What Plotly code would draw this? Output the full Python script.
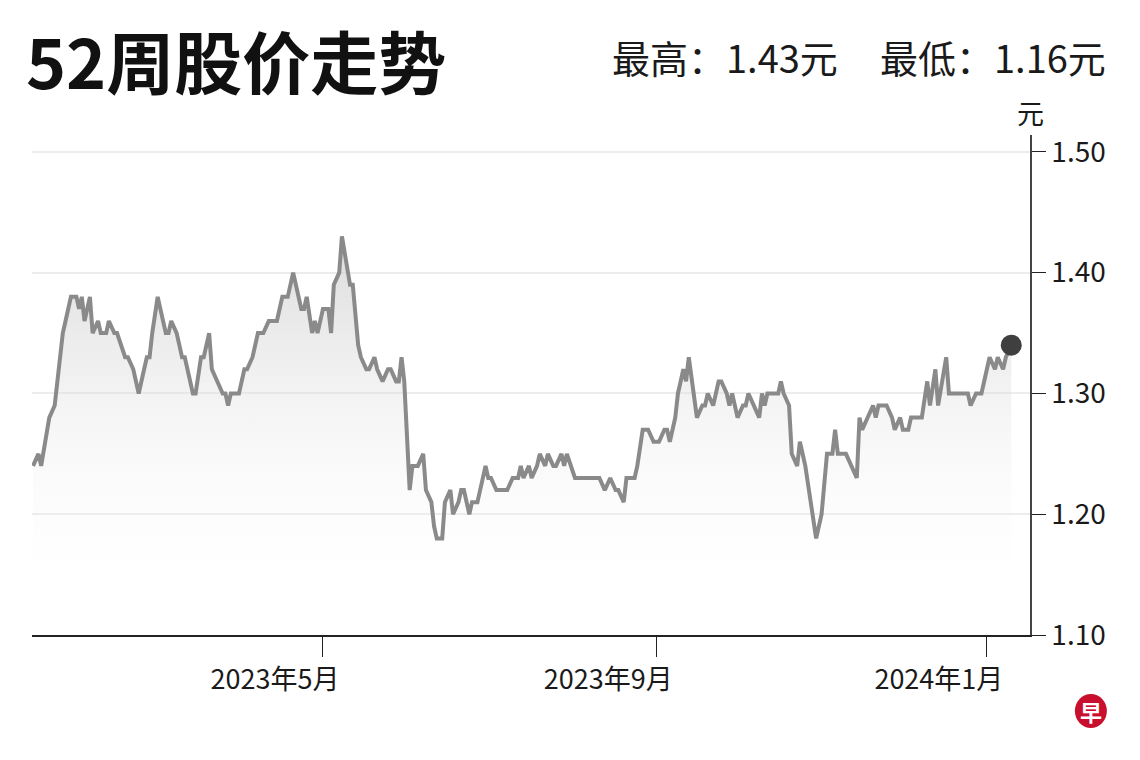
#
# 52-week share price chart
#

import plotly.graph_objects as go

FONT = "Noto Sans CJK SC"

# turning points of the price line (date, closing price in 元)
dates = [
    "2023-01-14", "2023-01-16", "2023-01-17", "2023-01-20", "2023-01-22", "2023-01-23",
    "2023-01-25", "2023-01-26", "2023-01-28", "2023-01-30", "2023-01-31", "2023-02-01",
    "2023-02-02", "2023-02-04", "2023-02-05", "2023-02-07", "2023-02-08", "2023-02-10",
    "2023-02-11", "2023-02-13", "2023-02-14", "2023-02-17", "2023-02-18", "2023-02-20",
    "2023-02-22", "2023-02-24", "2023-02-25", "2023-02-26", "2023-02-27", "2023-03-01",
    "2023-03-03", "2023-03-04", "2023-03-05", "2023-03-06", "2023-03-08", "2023-03-10",
    "2023-03-11", "2023-03-14", "2023-03-15", "2023-03-17", "2023-03-18", "2023-03-20",
    "2023-03-21", "2023-03-23", "2023-03-25", "2023-03-26", "2023-03-27", "2023-03-28",
    "2023-03-31", "2023-04-02", "2023-04-03", "2023-04-05", "2023-04-07", "2023-04-09",
    "2023-04-11", "2023-04-14", "2023-04-16", "2023-04-18", "2023-04-20", "2023-04-21",
    "2023-04-23", "2023-04-24", "2023-04-25", "2023-04-27", "2023-04-28", "2023-04-29",
    "2023-05-01", "2023-05-03", "2023-05-04", "2023-05-05", "2023-05-07", "2023-05-08",
    "2023-05-10", "2023-05-11", "2023-05-12", "2023-05-14", "2023-05-15", "2023-05-17",
    "2023-05-18", "2023-05-20", "2023-05-21", "2023-05-23", "2023-05-25", "2023-05-26",
    "2023-05-28", "2023-05-29", "2023-05-30", "2023-05-31", "2023-06-02", "2023-06-03",
    "2023-06-05", "2023-06-07", "2023-06-08", "2023-06-10", "2023-06-11", "2023-06-12",
    "2023-06-14", "2023-06-15", "2023-06-17", "2023-06-18", "2023-06-20", "2023-06-21",
    "2023-06-22", "2023-06-24", "2023-06-25", "2023-06-27", "2023-06-28", "2023-06-30",
    "2023-07-01", "2023-07-02", "2023-07-04", "2023-07-08", "2023-07-10", "2023-07-12",
    "2023-07-13", "2023-07-14", "2023-07-16", "2023-07-17", "2023-07-19", "2023-07-20",
    "2023-07-22", "2023-07-23", "2023-07-25", "2023-07-26", "2023-07-28", "2023-07-29",
    "2023-07-30", "2023-08-02", "2023-08-11", "2023-08-13", "2023-08-15", "2023-08-17",
    "2023-08-18", "2023-08-20", "2023-08-21", "2023-08-24", "2023-08-25", "2023-08-27",
    "2023-08-29", "2023-08-31", "2023-09-02", "2023-09-04", "2023-09-05", "2023-09-06",
    "2023-09-08", "2023-09-09", "2023-09-11", "2023-09-12", "2023-09-13", "2023-09-15",
    "2023-09-16", "2023-09-18", "2023-09-19", "2023-09-20", "2023-09-22", "2023-09-24",
    "2023-09-25", "2023-09-27", "2023-09-28", "2023-09-29", "2023-10-01", "2023-10-03",
    "2023-10-04", "2023-10-05", "2023-10-07", "2023-10-09", "2023-10-10", "2023-10-11",
    "2023-10-12", "2023-10-16", "2023-10-17", "2023-10-18", "2023-10-20", "2023-10-21",
    "2023-10-23", "2023-10-24", "2023-10-26", "2023-10-28", "2023-10-30", "2023-11-01",
    "2023-11-02", "2023-11-03", "2023-11-05", "2023-11-06", "2023-11-07", "2023-11-10",
    "2023-11-14", "2023-11-15", "2023-11-16", "2023-11-18", "2023-11-20", "2023-11-21",
    "2023-11-22", "2023-11-25", "2023-11-27", "2023-11-28", "2023-11-30", "2023-12-01",
    "2023-12-03", "2023-12-04", "2023-12-08", "2023-12-10", "2023-12-11", "2023-12-13",
    "2023-12-14", "2023-12-17", "2023-12-18", "2023-12-25", "2023-12-26", "2023-12-28",
    "2023-12-30", "2024-01-01", "2024-01-02", "2024-01-04", "2024-01-05", "2024-01-07",
    "2024-01-08", "2024-01-10",
]
prices = [
    1.24, 1.25, 1.24, 1.28, 1.29, 1.31,
    1.35, 1.36, 1.38, 1.38, 1.37, 1.38,
    1.36, 1.38, 1.35, 1.36, 1.35, 1.35,
    1.36, 1.35, 1.35, 1.33, 1.33, 1.32,
    1.30, 1.32, 1.33, 1.33, 1.35, 1.38,
    1.36, 1.35, 1.35, 1.36, 1.35, 1.33,
    1.33, 1.30, 1.30, 1.33, 1.33, 1.35,
    1.32, 1.31, 1.30, 1.30, 1.29, 1.30,
    1.30, 1.32, 1.32, 1.33, 1.35, 1.35,
    1.36, 1.36, 1.38, 1.38, 1.40, 1.39,
    1.37, 1.37, 1.38, 1.35, 1.36, 1.35,
    1.37, 1.37, 1.35, 1.39, 1.40, 1.43,
    1.40, 1.39, 1.39, 1.34, 1.33, 1.32,
    1.32, 1.33, 1.32, 1.31, 1.32, 1.32,
    1.31, 1.31, 1.33, 1.31, 1.22, 1.24,
    1.24, 1.25, 1.22, 1.21, 1.19, 1.18,
    1.18, 1.21, 1.22, 1.20, 1.21, 1.22,
    1.22, 1.20, 1.21, 1.21, 1.22, 1.24,
    1.23, 1.23, 1.22, 1.22, 1.23, 1.23,
    1.24, 1.23, 1.24, 1.23, 1.24, 1.25,
    1.24, 1.25, 1.24, 1.24, 1.25, 1.24,
    1.25, 1.23, 1.23, 1.22, 1.23, 1.22,
    1.22, 1.21, 1.23, 1.23, 1.24, 1.27,
    1.27, 1.26, 1.26, 1.27, 1.27, 1.26,
    1.28, 1.30, 1.32, 1.31, 1.33, 1.30,
    1.28, 1.29, 1.29, 1.30, 1.29, 1.31,
    1.31, 1.30, 1.29, 1.30, 1.28, 1.29,
    1.29, 1.30, 1.29, 1.28, 1.30, 1.29,
    1.30, 1.30, 1.31, 1.30, 1.29, 1.25,
    1.24, 1.26, 1.24, 1.21, 1.18, 1.20,
    1.23, 1.25, 1.25, 1.27, 1.25, 1.25,
    1.23, 1.28, 1.27, 1.28, 1.29, 1.28,
    1.29, 1.29, 1.28, 1.27, 1.28, 1.27,
    1.27, 1.28, 1.28, 1.31, 1.29, 1.32,
    1.29, 1.33, 1.30, 1.30, 1.29, 1.30,
    1.30, 1.32, 1.33, 1.32, 1.33, 1.32,
    1.33, 1.34,
]

tick_dates = ["2023-05-01", "2023-09-01", "2024-01-01"]
tick_labels = ["2023年5月", "2023年9月", "2024年1月"]
y_ticks = [1.10, 1.20, 1.30, 1.40, 1.50]

title = "52周股价走势"
high_text = "最高：1.43元"
low_text = "最低：1.16元"
unit = "元"

fig = go.Figure()

fig.add_trace(go.Scatter(
    x=dates, y=prices, mode="lines", fill="tozeroy",
    line=dict(color="#8a8a8a", width=4),
    fillgradient=dict(type="vertical", start=1.12, stop=1.43,
                      colorscale=[[0, "rgba(255,255,255,0)"],
                                  [1, "rgba(200,200,200,0.65)"]]),
    hoverinfo="skip", showlegend=False))

# last close marker
fig.add_trace(go.Scatter(
    x=[dates[-1]], y=[prices[-1]], mode="markers",
    marker=dict(color="#3f3f3f", size=21), showlegend=False, hoverinfo="skip"))

# page body has an 8px margin, so the figure is drawn 8px smaller
fig.update_layout(
    width=1132, height=752,
    margin=dict(l=24, r=110, t=127, b=125),
    paper_bgcolor="white", plot_bgcolor="white",
    font=dict(family=FONT, color="#1a1a1a"),
    xaxis=dict(
        range=["2023-01-13 15:00", "2024-01-16 22:00"],
        tickvals=tick_dates, ticktext=tick_labels,
        ticks="outside", ticklen=20, tickcolor="#222", tickwidth=1,
        ticklabelshift=-48,
        tickfont=dict(size=27, family=FONT, color="#1a1a1a"),
        showline=True, linecolor="#222", linewidth=1.5,
        showgrid=False, zeroline=False),
    yaxis=dict(
        side="right", range=[1.10, 1.514],
        tickvals=y_ticks, tickformat=".2f",
        ticks="outside", ticklen=14, tickcolor="#222", tickwidth=1,
        tickfont=dict(size=28, family=FONT, color="#1a1a1a"),
        showline=True, linecolor="#444", linewidth=1.5,
        showgrid=True, gridcolor="#ececec", gridwidth=1.5,
        zeroline=False),
)

fig.add_annotation(text="<b>" + title + "</b>", xref="paper", yref="paper",
                   x=-0.008, y=1.152, xanchor="left", yanchor="middle",
                   showarrow=False, font=dict(size=68, family=FONT, color="#111"))
fig.add_annotation(text=high_text, xref="paper", yref="paper",
                   x=0.81, y=1.158, xanchor="right", yanchor="middle",
                   showarrow=False, font=dict(size=38, family=FONT, color="#1a1a1a"))
fig.add_annotation(text=low_text, xref="paper", yref="paper",
                   x=1.078, y=1.158, xanchor="right", yanchor="middle",
                   showarrow=False, font=dict(size=38, family=FONT, color="#1a1a1a"))
fig.add_annotation(text=unit, xref="paper", yref="paper",
                   x=1.0, y=1.045, xanchor="center", yanchor="middle",
                   showarrow=False, font=dict(size=27, family=FONT, color="#1a1a1a"))

# red "早" logo bottom right
fig.add_shape(type="circle", xref="paper", yref="paper",
              xsizemode="pixel", ysizemode="pixel",
              xanchor=1.061, yanchor=-0.152,
              x0=-16, x1=16, y0=-17, y1=17,
              fillcolor="#c8102e", line=dict(width=0))
fig.add_annotation(text="<b>早</b>", xref="paper", yref="paper",
                   x=1.061, y=-0.152, xanchor="center", yanchor="middle",
                   showarrow=False, font=dict(size=22, family=FONT, color="white"))

fig.write_html("out.html")
